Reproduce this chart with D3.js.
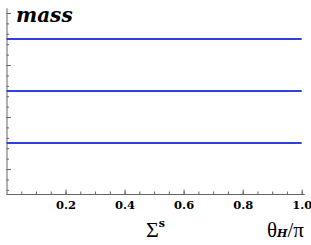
<!DOCTYPE html>
<html>
<head>
<meta charset="utf-8">
<script src="https://cdn.jsdelivr.net/npm/d3@7"></script>
<style>
  body { margin: 0; background: #fff; }
  svg { display: block; }
  text { font-family: "Liberation Serif", serif; }
  .bold { font-family: "DejaVu Serif", serif; font-weight: bold; }
  .axis path, .axis line { stroke: #666; }
</style>
</head>
<body>
<div id="chart-area"></div>
<script>
const W = 311, H = 245

// data
const thetaRange = [0, 1]
const massLevels = [1.5, 2.5, 3.5]
const xMajor = [0.2, 0.4, 0.6, 0.8, 1.0]
const xMinor = d3.range(0.05, 1.001, 0.05)
const yMajor = [1, 2, 3, 4]
const yMinor = d3.range(0.6, 4.05, 0.2)

const svg = d3.select("#chart-area").append("svg")
  .attr("width", W)
  .attr("height", H)

const x = d3.scaleLinear().domain([0, 1]).range([6.5, 301.7])
const y = d3.scaleLinear().domain([0.52, 4.1]).range([194, 7.8])

// minor ticks x
svg.append("g")
  .attr("class", "axis")
  .attr("transform", "translate(0,194)")
  .call(d3.axisBottom(x).tickValues(xMinor).tickSize(-2.5).tickFormat(""))
  .select(".domain").remove()

const xAxis = svg.append("g")
  .attr("class", "axis")
  .attr("transform", "translate(0,194)")
  .call(d3.axisBottom(x).tickValues(xMajor).tickSize(-4.5).tickSizeOuter(0).tickFormat(d3.format(".1f")))
xAxis.select(".domain").attr("d", `M${x(0)},0.5H${x(1) + 3}`)
xAxis.selectAll("text")
  .attr("class", "bold")
  .attr("y", 15)
  .attr("dy", 0)
  .style("font-size", "11.5px")
  .attr("fill", "#000")

// y axis
svg.append("g")
  .attr("class", "axis")
  .attr("transform", "translate(6.5,0)")
  .call(d3.axisLeft(y).tickValues(yMinor).tickSize(-2.5).tickFormat(""))
  .select(".domain").remove()

svg.append("g")
  .attr("class", "axis")
  .attr("transform", "translate(6.5,0)")
  .call(d3.axisLeft(y).tickValues(yMajor).tickSize(-4.5).tickSizeOuter(0).tickFormat(""))

// mass lines
const line = d3.line()
  .x(d => x(d[0]))
  .y(d => y(d[1]))

svg.selectAll(".mass")
  .data(massLevels)
  .join("path")
  .attr("class", "mass")
  .attr("fill", "none")
  .attr("stroke", "#3040e0")
  .attr("stroke-width", 2)
  .attr("d", m => line(thetaRange.map(t => [t, m])))

// labels
svg.append("text")
  .attr("class", "bold")
  .attr("x", 16)
  .attr("y", 21.5)
  .style("font-style", "italic")
  .style("font-size", "20px")
  .text("mass")

const sig = svg.append("text")
  .attr("x", 146)
  .attr("y", 237)
  .style("font-size", "22px")
sig.append("tspan").text("Σ")
sig.append("tspan")
  .attr("class", "bold")
  .attr("dy", -10)
  .style("font-size", "11px")
  .text("s")

const th = svg.append("text")
  .attr("x", 267)
  .attr("y", 237)
  .style("font-size", "21px")
th.append("tspan").text("θ")
th.append("tspan")
  .attr("class", "bold")
  .style("font-size", "11px")
  .style("font-style", "italic")
  .text("H")
th.append("tspan").text("/π")
</script>
</body>
</html>
